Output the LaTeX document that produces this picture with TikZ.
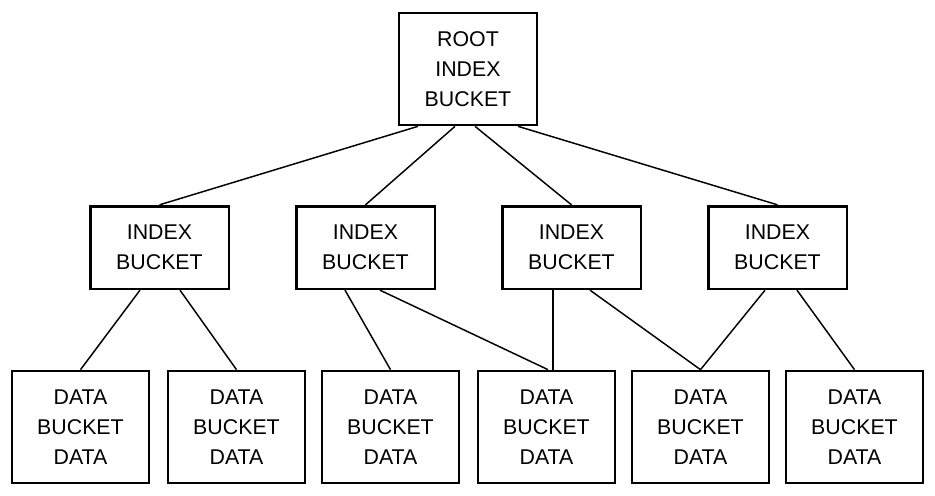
\documentclass[tikz,border=0pt]{standalone}
\usepackage{fontspec}
\setmainfont{Liberation Sans}
\usetikzlibrary{calc}
\begin{document}
\begin{tikzpicture}[x=0.75pt,y=-0.75pt,
  box/.style={draw,line width=2pt,rectangle,inner sep=0pt,align=center,font=\fontsize{16}{22.5}\selectfont},
  big/.style={box,minimum width=103.5pt,minimum height=84pt},
  mid/.style={box,minimum width=104pt,minimum height=62pt},
  ln/.style={line width=1.1pt}]
\useasboundingbox (0,0) rectangle (935,496);
\node[big] (r) at (468,69) {ROOT\\INDEX\\BUCKET};
\foreach \n/\x in {i1/159.5,i2/365.5,i3/571.5,i4/777.5}
  \node[mid] (\n) at (\x,247.5) {INDEX\\BUCKET};
\foreach \n/\x in {d1/80.5,d2/236.5,d3/390.5,d4/546.5,d5/700.5,d6/854.5}
  \node[big,minimum width=102.75pt] (\n) at (\x,427) {DATA\\BUCKET\\DATA};
\draw[ln] ($(r.south)+(-50,0)$) -- (i1.north);
\draw[ln] ($(r.south)+(-13,0)$) -- (i2.north);
\draw[ln] ($(r.south)+(7,0)$) -- (i3.north);
\draw[ln] ($(r.south)+(50,0)$) -- (i4.north);
\draw[ln] ($(i1.south)+(-19.5,0)$) -- (d1.north);
\draw[ln] ($(i1.south)+(20.5,0)$) -- (d2.north);
\draw[ln] ($(i2.south)+(-20.5,0)$) -- (d3.north);
\draw[ln] ($(i2.south)+(14.5,0)$) -- ($(d4.north)+(1.5,0)$);
\draw[ln] ($(i3.south)+(-18.5,0)$) -- ($(d4.north)+(6.5,0)$);
\draw[ln] ($(i3.south)+(18.5,0)$) -- (d5.north);
\draw[ln] ($(i4.south)+(-12.5,0)$) -- (d5.north);
\draw[ln] ($(i4.south)+(19.5,0)$) -- (d6.north);
\end{tikzpicture}
\end{document}
